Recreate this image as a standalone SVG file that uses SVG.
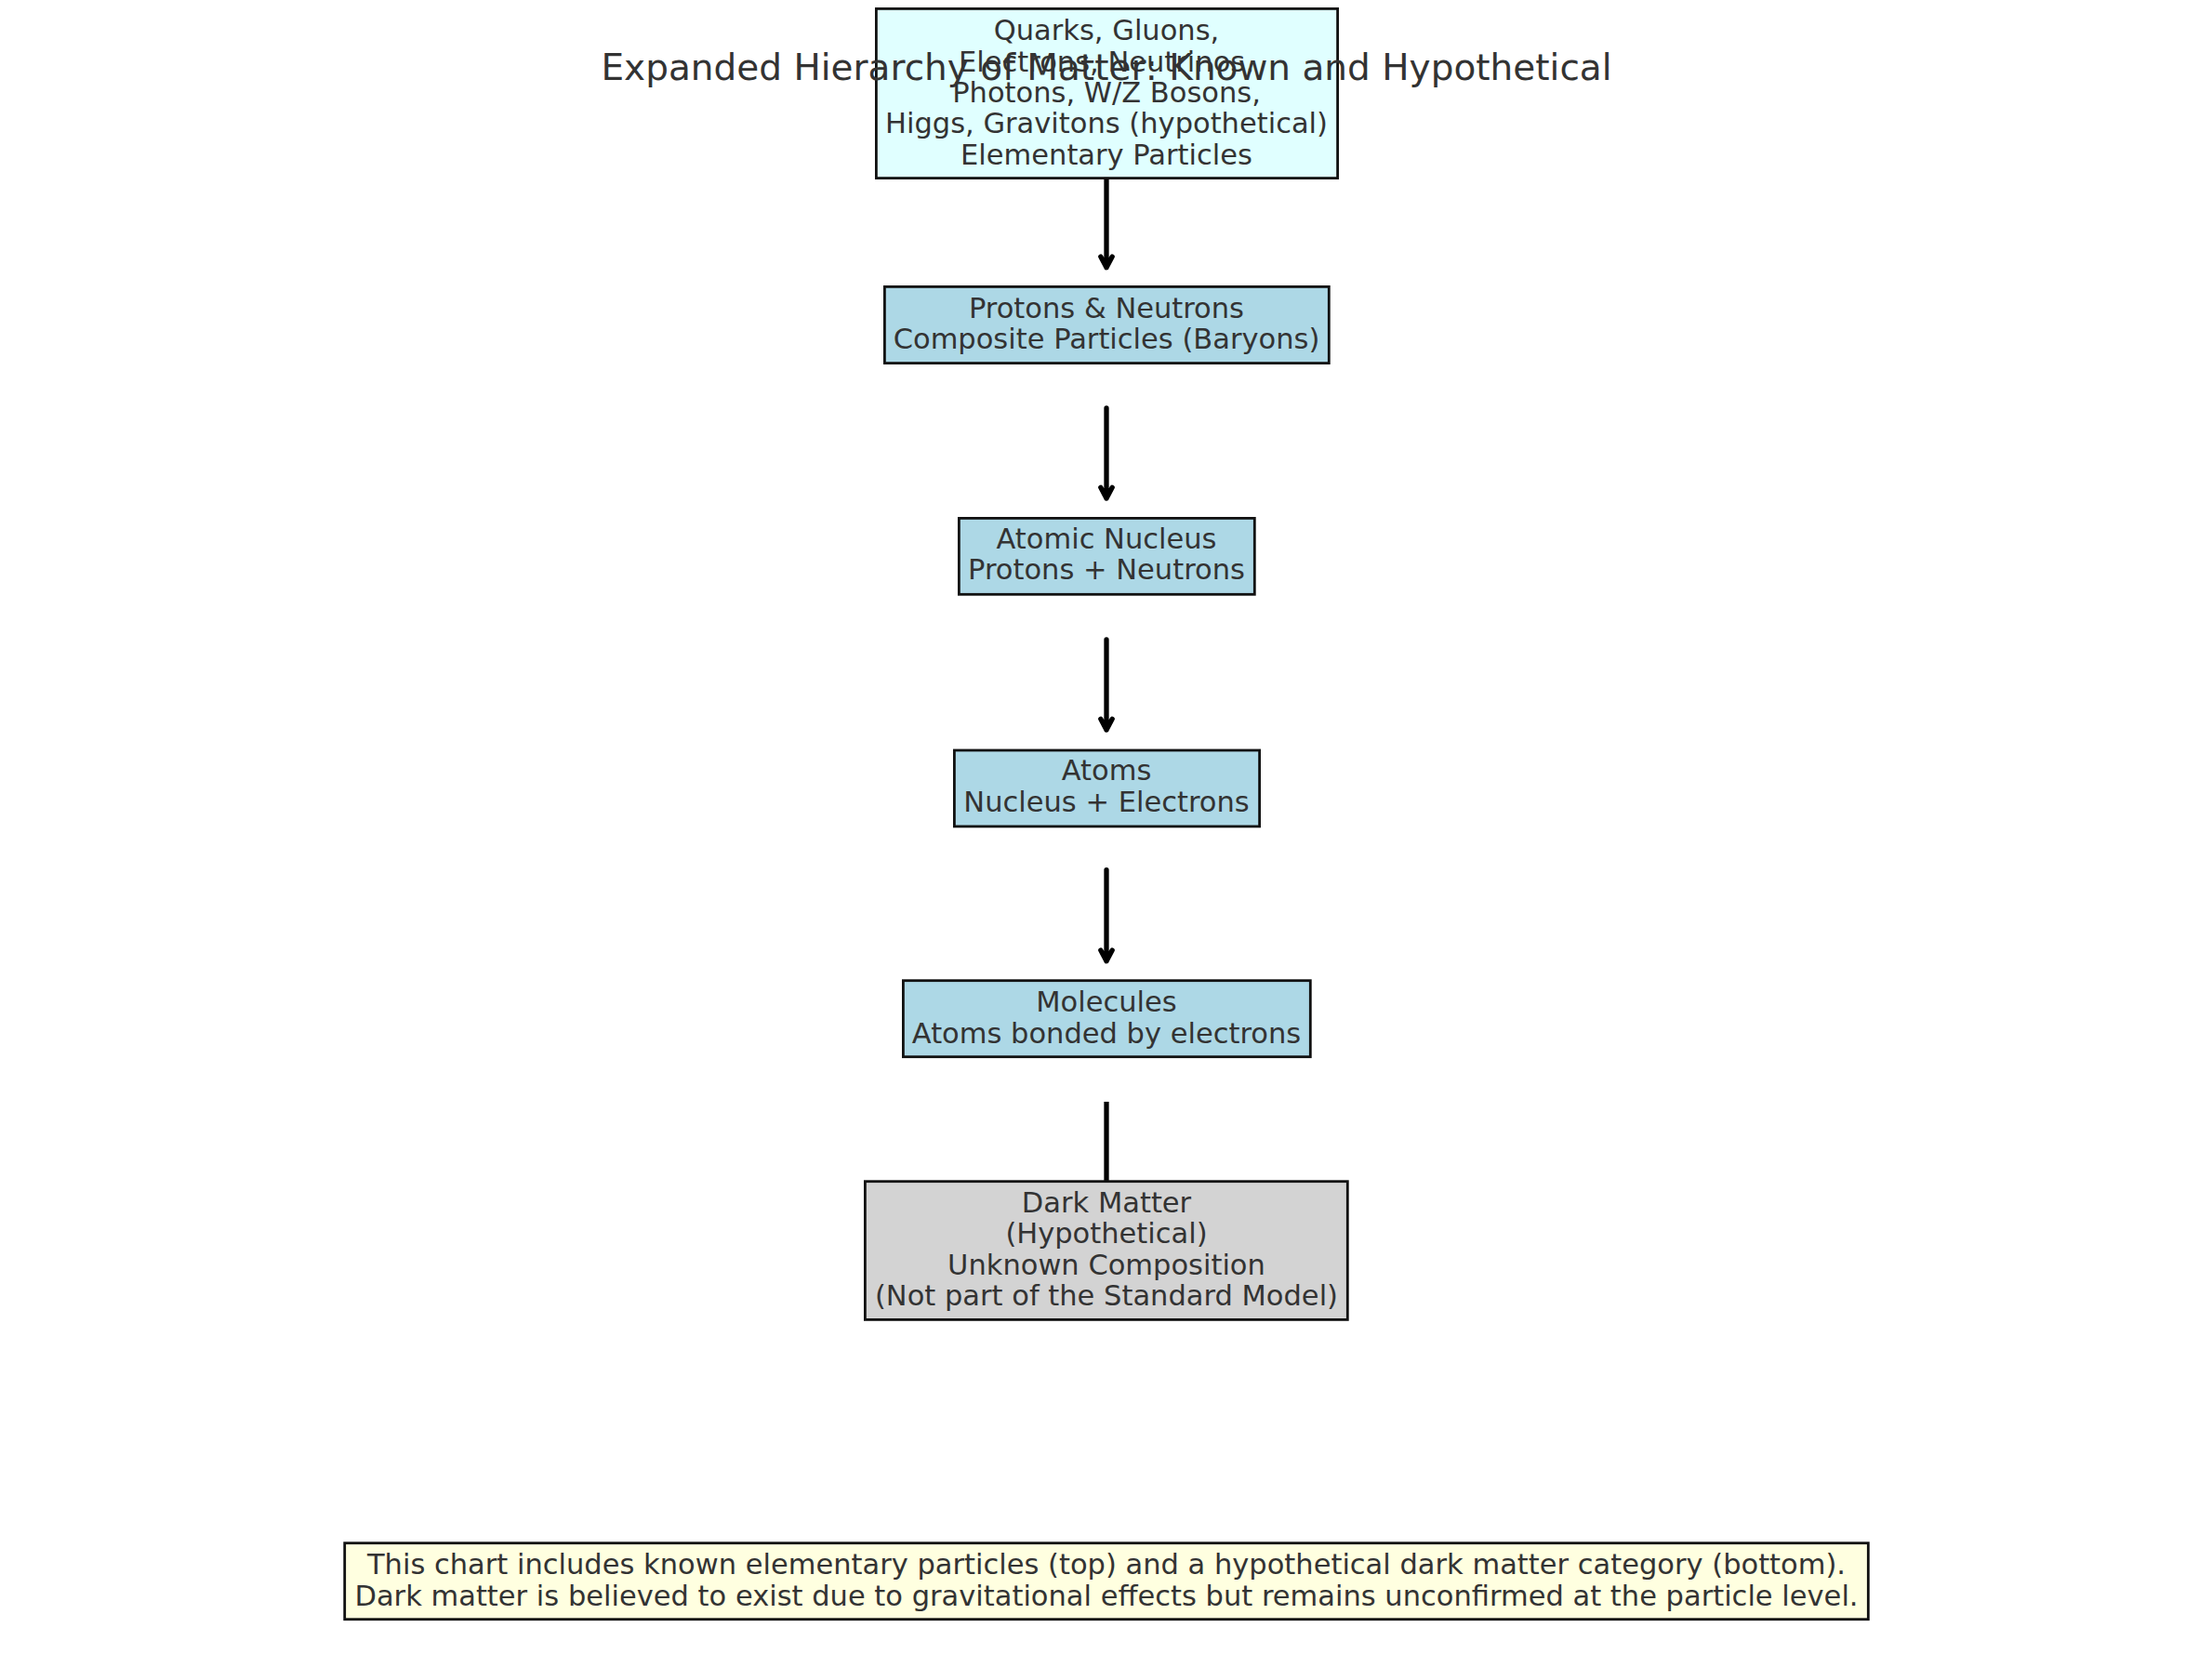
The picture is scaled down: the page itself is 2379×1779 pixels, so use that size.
<svg xmlns="http://www.w3.org/2000/svg" width="2379" height="1779" viewBox="0 0 2379 1779">
<style>
.box{stroke:#111111;stroke-width:2.8}
.t{font-family:"DejaVu Sans","Liberation Sans",sans-serif;font-size:30.5px;fill:#333333;text-anchor:middle}
.title{font-family:"DejaVu Sans","Liberation Sans",sans-serif;font-size:39px;fill:#333333;text-anchor:middle}
.c{stroke:#000000;stroke-width:5.3;fill:none;stroke-linecap:round;stroke-linejoin:round}
</style>
<rect width="2379" height="1779" fill="#ffffff"/>
<g id="connectors">
<path class="c" d="M1190,190.5 V287.7 M1183.8,276 L1190,287.7 L1196.2,276"/>
<path class="c" d="M1190,439 V536 M1183.8,524.3 L1190,536 L1196.2,524.3"/>
<path class="c" d="M1190,688 V785 M1183.8,773.3 L1190,785 L1196.2,773.3"/>
<path class="c" d="M1190,935.7 V1033.7 M1183.8,1022 L1190,1033.7 L1196.2,1022"/>
<path class="c" d="M1190,1185 V1270" style="stroke-linecap:butt"/>
</g>
<g id="elementary">
<rect class="box" x="942.4" y="9.4" width="496.2" height="182.2" fill="#e0ffff"/>
<text class="t" x="1190" y="43.3">Quarks, Gluons,</text>
<text class="t" x="1190" y="76.7">Electrons, Neutrinos,</text>
<text class="t" x="1190" y="110">Photons, W/Z Bosons,</text>
<text class="t" x="1190" y="143.3">Higgs, Gravitons (hypothetical)</text>
<text class="t" x="1190" y="176.7">Elementary Particles</text>
</g>
<g id="baryons">
<rect class="box" x="951.4" y="308.4" width="477.9" height="82.2" fill="#add8e6"/>
<text class="t" x="1190" y="341.7">Protons &amp; Neutrons</text>
<text class="t" x="1190" y="375">Composite Particles (Baryons)</text>
</g>
<g id="nucleus">
<rect class="box" x="1031.4" y="557.4" width="317.9" height="81.9" fill="#add8e6"/>
<text class="t" x="1190" y="590">Atomic Nucleus</text>
<text class="t" x="1190" y="623">Protons + Neutrons</text>
</g>
<g id="atoms">
<rect class="box" x="1026.4" y="807" width="328.2" height="81.9" fill="#add8e6"/>
<text class="t" x="1190" y="839.3">Atoms</text>
<text class="t" x="1190" y="872.7">Nucleus + Electrons</text>
</g>
<g id="molecules">
<rect class="box" x="971.4" y="1054.7" width="437.9" height="82" fill="#add8e6"/>
<text class="t" x="1190" y="1087.7">Molecules</text>
<text class="t" x="1190" y="1121.7">Atoms bonded by electrons</text>
</g>
<g id="darkmatter">
<rect class="box" x="930.4" y="1270.7" width="518.9" height="148.7" fill="#d3d3d3"/>
<text class="t" x="1190" y="1304">Dark Matter</text>
<text class="t" x="1190" y="1337.3">(Hypothetical)</text>
<text class="t" x="1190" y="1370.7">Unknown Composition</text>
<text class="t" x="1190" y="1404">(Not part of the Standard Model)</text>
</g>
<g id="title">
<text class="title" x="1190" y="85.5">Expanded Hierarchy of Matter: Known and Hypothetical</text>
</g>
<g id="footnote">
<rect class="box" x="370.7" y="1659.7" width="1638.6" height="82" fill="#ffffe0"/>
<text class="t" x="1190" y="1692.7">This chart includes known elementary particles (top) and a hypothetical dark matter category (bottom).</text>
<text class="t" x="1190" y="1726.7">Dark matter is believed to exist due to gravitational effects but remains unconfirmed at the particle level.</text>
</g>
</svg>
